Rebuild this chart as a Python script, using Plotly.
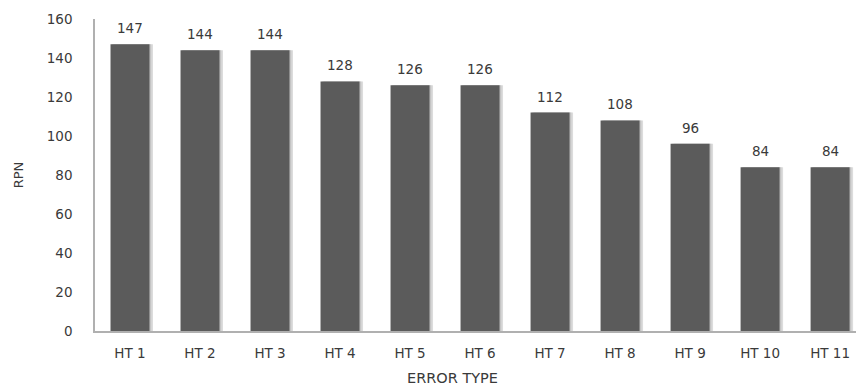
import plotly.graph_objects as go

categories = ["HT 1", "HT 2", "HT 3", "HT 4", "HT 5", "HT 6", "HT 7", "HT 8", "HT 9", "HT 10", "HT 11"]
rpn = [147, 144, 144, 128, 126, 126, 112, 108, 96, 84, 84]
y_ticks = [0, 20, 40, 60, 80, 100, 120, 140, 160]

FONT = "DejaVu Sans"
FS = 13.5
TXT = "#3a3a3a"
BW = 0.557

fig = go.Figure()
# soft shadow
fig.add_trace(go.Bar(x=categories, y=rpn, width=BW, offset=-BW / 2 + 0.05,
                     marker=dict(color="#dcdcdc", line=dict(width=0)), hoverinfo="skip"))
fig.add_trace(go.Bar(x=categories, y=rpn, width=BW, offset=-BW / 2 + 0.025,
                     marker=dict(color="#c4c4c4", line=dict(width=0)), hoverinfo="skip"))
fig.add_trace(go.Bar(x=categories, y=rpn, width=BW, offset=-BW / 2,
                     marker=dict(color="#5b5b5b", line=dict(width=0))))

for c, v in zip(categories, rpn):
    fig.add_annotation(x=c, y=v, text=str(v), showarrow=False, yshift=16,
                       font=dict(family=FONT, size=FS, color=TXT))

fig.add_annotation(x=(452 - 95) / 761, y=-0.152, xref="paper", yref="paper",
                   text="ERROR TYPE", showarrow=False,
                   font=dict(family=FONT, size=14.5, color=TXT), yanchor="middle")

fig.update_layout(
    width=856, height=387,
    margin=dict(l=95, r=0, t=19, b=56),
    paper_bgcolor="white", plot_bgcolor="white",
    showlegend=False, barmode="overlay",
    xaxis=dict(range=[-0.5, 10.37], showline=True, linecolor="#b0b0b0", linewidth=1.5,
               ticks="", showgrid=False, tickfont=dict(family=FONT, size=FS, color=TXT),
               ticklabelstandoff=9),
    yaxis=dict(range=[0, 160], tickvals=y_ticks, showline=True, linecolor="#b0b0b0", linewidth=1.5,
               ticks="", showgrid=False, zeroline=False,
               tickfont=dict(family=FONT, size=FS, color=TXT), ticklabelstandoff=18,
               title=dict(text="RPN", font=dict(family=FONT, size=13, color=TXT), standoff=20)),
)

fig.write_html("out.html")
